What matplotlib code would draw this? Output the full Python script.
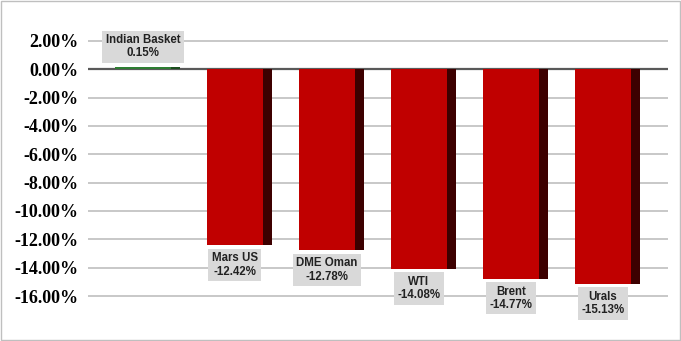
import numpy as np
import matplotlib.pyplot as plt

# crude basket price change values
names = ['Indian Basket', 'Mars US', 'DME Oman', 'WTI', 'Brent', 'Urals']
changes = [0.15, -12.42, -12.78, -14.08, -14.77, -15.13]
yticks = [2, 0, -2, -4, -6, -8, -10, -12, -14, -16]

fig = plt.figure(figsize=(6.81, 3.41), dpi=100)
ax = fig.add_axes([88/681, 1 - 310/341, 580/681, 282/341])

x = np.arange(len(names))
front_w = 0.61
side_w = 0.10
colors = ['#2e7d32' if v > 0 else '#c00000' for v in changes]
sides = ['#1b4d1e' if v > 0 else '#3d0000' for v in changes]

ax.bar(x - side_w / 2, changes, width=front_w, color=colors, zorder=3)
ax.bar(x + front_w / 2, changes, width=side_w, color=sides, zorder=3)

box = dict(boxstyle='square,pad=0.3', fc='#d9d9d9', ec='none')
for xi, v, n in zip(x, changes, names):
    txt = '%s\n%.2f%%' % (n, v)
    if v > 0:
        ax.text(xi - side_w / 2, v + 0.55, txt, ha='center', va='bottom',
                fontsize=8.3, fontweight='bold', family='Liberation Sans',
                color='#222222', linespacing=1.15, bbox=box, zorder=4)
    else:
        ax.text(xi - side_w / 2, v - 0.5, txt, ha='center', va='top',
                fontsize=8.3, fontweight='bold', family='Liberation Sans',
                color='#222222', linespacing=1.15, bbox=box, zorder=4)

ax.set_ylim(-16.988, 2.917)
ax.set_xlim(-0.647, 5.658)
ax.set_yticks(yticks)
ax.set_yticklabels(['%.2f%%' % t for t in yticks], fontsize=13,
                   fontweight='bold', family='Liberation Serif')
ax.set_xticks([])
ax.tick_params(axis='y', length=0, pad=7)
ax.grid(axis='y', color='#bfbfbf', linewidth=1.2, zorder=0)
ax.axhline(0, color='#595959', linewidth=1.6, zorder=2)
for s in ax.spines.values():
    s.set_visible(False)

fig.patches.append(plt.Rectangle((0.001, 0.002), 0.997, 0.995, transform=fig.transFigure,
                                 fill=False, ec='#bfbfbf', lw=1))

fig.savefig('out.png', dpi=100)
